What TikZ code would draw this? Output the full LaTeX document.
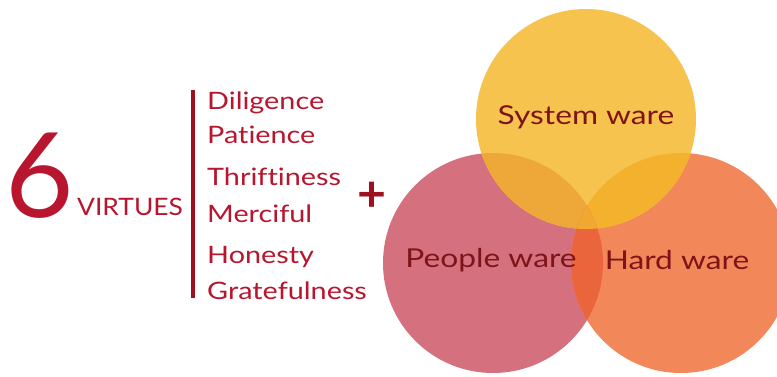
\documentclass[tikz,border=0pt]{standalone}
\usepackage{fontspec}
\setmainfont{Lato}
\newfontfamily\widefont[FakeStretch=1.2,Ligatures=NoCommon]{Lato}
\newfontfamily\virtfont[FakeStretch=1.1]{Lato}
\newfontfamily\labfont[FakeStretch=1.22,Ligatures=NoCommon]{Lato}
\definecolor{txtred}{HTML}{B8162E}
\definecolor{barred}{HTML}{9E1020}
\definecolor{labred}{HTML}{7E1418}
\definecolor{cyel}{HTML}{F6C44E}
\definecolor{cpink}{HTML}{D5707E}
\definecolor{corange}{HTML}{F2885A}
\definecolor{cyp}{HTML}{EEA83A}
\definecolor{cyo}{HTML}{F4B12E}
\definecolor{cpo}{HTML}{EB653C}
\definecolor{cypo}{HTML}{F2A830}
\begin{document}
\begin{tikzpicture}[x=1pt,y=-1pt,
  virtue/.style={anchor=west,inner sep=0pt,text=txtred,font=\widefont\fontsize{24}{26}\selectfont},
  lab/.style={inner sep=0pt,text=labred,font=\labfont\fontsize{26}{28}\selectfont}]
\useasboundingbox (0,0) rectangle (777,376);
\fill[white] (0,0) rectangle (777,376);
\def\Cy{(586,119) circle (110)}
\def\Cp{(493,263) circle (110)}
\def\Co{(681,263) circle (110)}
\fill[cpink] \Cp;
\fill[corange] \Co;
\fill[cyel] \Cy;
\begin{scope}\clip \Cy; \fill[cyp] \Cp; \fill[cyo] \Co; \end{scope}
\begin{scope}\clip \Cp; \fill[cpo] \Co; \end{scope}
\begin{scope}\clip \Cy; \clip \Cp; \fill[cypo] \Co; \end{scope}
\node[inner sep=0pt,text=txtred,font=\fontsize{118}{118}\selectfont,anchor=base] (six) at (40,217) {6};
\node[inner sep=0pt,text=txtred,font=\virtfont\fontsize{24}{26}\selectfont,anchor=base west] (virt) at (77,215) {VIRTUES};
\coordinate (bt) at (193,90);
\coordinate (bb) at (193,298);
\draw[barred,line width=4pt] (bt) -- (bb);
\node[virtue,anchor=base west] (d1) at (207,109) {Diligence};
\node[virtue,anchor=base west] (d2) at (207,143) {Patience};
\node[virtue,anchor=base west] (d3) at (207,185) {Thriftiness};
\node[virtue,anchor=base west] (d4) at (207,222) {Merciful};
\node[virtue,anchor=base west] (d5) at (207,263) {Honesty};
\node[virtue,anchor=base west] (d6) at (207,299) {Gratefulness};
\node[inner sep=0pt,text=barred,font=\fontsize{50}{50}\selectfont\bfseries] (plus) at (372,197) {+};
\node[lab] (sys) at (586,117) {System ware};
\node[lab] (ppl) at (491,260) {People ware};
\node[lab] (hrd) at (677,260) {Hard ware};
\end{tikzpicture}
\end{document}
